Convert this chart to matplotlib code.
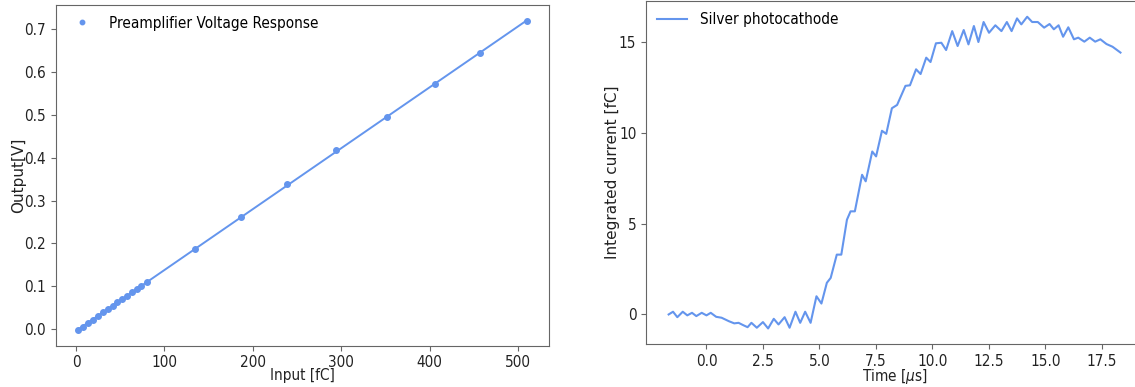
import numpy as np
import matplotlib.pyplot as plt

# left panel: preamplifier calibration points
charge_in = [2.5, 7.8, 13.2, 19.0, 24.7, 30.5, 35.9, 41.2, 46.6, 52.3, 57.7, 63.5,
             68.4, 73.8, 80.0, 134.4, 186.7, 238.2, 294.3, 351.6, 406.0, 457.5, 509.9]
volt_out = [-0.002, 0.006, 0.0155, 0.0225, 0.031, 0.0396, 0.0466, 0.055, 0.063, 0.0706,
            0.078, 0.086, 0.094, 0.1017, 0.1094, 0.187, 0.262, 0.338, 0.4175, 0.494,
            0.572, 0.643, 0.719]

# right panel: integrated current trace
t_us = [-1.675, -1.48, -1.29, -1.05, -0.85, -0.64, -0.45, -0.21, 0.0, 0.19, 0.43, 0.67,
        0.99, 1.23, 1.42, 1.63, 1.82, 1.99, 2.23, 2.50, 2.73, 2.98, 3.19, 3.46, 3.68,
        3.94, 4.15, 4.37, 4.61, 4.87, 5.09, 5.33, 5.50, 5.77, 5.97, 6.22, 6.38, 6.57,
        6.89, 7.05, 7.34, 7.51, 7.77, 7.96, 8.21, 8.44, 8.81, 9.01, 9.28, 9.48, 9.73,
        9.92, 10.16, 10.40, 10.61, 10.88, 11.12, 11.39, 11.60, 11.84, 12.04, 12.27,
        12.51, 12.79, 13.06, 13.30, 13.51, 13.75, 13.94, 14.20, 14.42, 14.67, 14.95,
        15.19, 15.38, 15.59, 15.79, 16.02, 16.27, 16.46, 16.73, 16.97, 17.21, 17.44,
        17.71, 17.98, 18.33]
q_fc = [0.0, 0.15, -0.15, 0.15, -0.05, 0.09, -0.09, 0.09, -0.05, 0.09, -0.13, -0.18,
        -0.37, -0.49, -0.46, -0.59, -0.70, -0.46, -0.73, -0.42, -0.77, -0.24, -0.55,
        -0.15, -0.73, 0.15, -0.46, 0.15, -0.46, 1.0, 0.6, 1.74, 2.01, 3.29, 3.29, 5.21,
        5.67, 5.67, 7.68, 7.32, 8.96, 8.69, 10.1, 9.93, 11.34, 11.52, 12.57, 12.60,
        13.48, 13.22, 14.12, 13.88, 14.91, 14.94, 14.54, 15.58, 14.76, 15.64, 14.85,
        15.86, 14.98, 16.08, 15.49, 15.90, 15.58, 16.08, 15.58, 16.28, 15.95, 16.37,
        16.08, 16.08, 15.77, 15.97, 15.68, 15.90, 15.27, 15.79, 15.13, 15.22, 15.0,
        15.22, 15.0, 15.13, 14.87, 14.72, 14.40]
current_ticks = [0, 5, 10, 15]
time_ticks = [0, 2.5, 5, 7.5, 10, 12.5, 15, 17.5]

col = 'cornflowerblue'
plt.rcParams['font.size'] = 11
plt.rcParams['font.stretch'] = 'condensed'
plt.rcParams['axes.edgecolor'] = '#666666'
plt.rcParams['xtick.color'] = '#666666'
plt.rcParams['ytick.color'] = '#666666'
plt.rcParams['xtick.labelcolor'] = '#222222'
plt.rcParams['ytick.labelcolor'] = '#222222'
plt.rcParams['axes.labelcolor'] = '#222222'

fig = plt.figure(figsize=(11.35, 3.87), dpi=100)
ax1 = fig.add_axes([0.0493, 0.107, 0.4344, 0.880])
ax2 = fig.add_axes([0.5692, 0.111, 0.4379, 0.886])

x = np.array(charge_in)
y = np.array(volt_out)
p = np.polyfit(x, y, 1)
ax1.plot(x, y, 'o', color=col, markersize=4, label='Preamplifier Voltage Response')
ax1.plot(x, np.polyval(p, x), '-', color=col, linewidth=1.4)
ax1.set_xlabel('Input [fC]', labelpad=-1.5)
ax1.set_ylabel('Output[V]', labelpad=-1.5, fontstretch='normal')
ax1.legend(loc='upper left', frameon=False, markerscale=0.8, borderaxespad=0.3)

ax2.plot(t_us, q_fc, '-', color=col, linewidth=1.5, solid_joinstyle='round',
         label='Silver photocathode')
ax2.set_xticks(time_ticks)
ax2.set_yticks(current_ticks)
ax2.set_xlabel(r'Time [$\mu$s]', labelpad=-1.5)
ax2.set_ylabel('Integrated current [fC]', labelpad=-0.5, fontstretch='normal')
ax2.legend(loc='upper left', frameon=False, borderaxespad=0.3)

fig.savefig('out.png', dpi=100)
